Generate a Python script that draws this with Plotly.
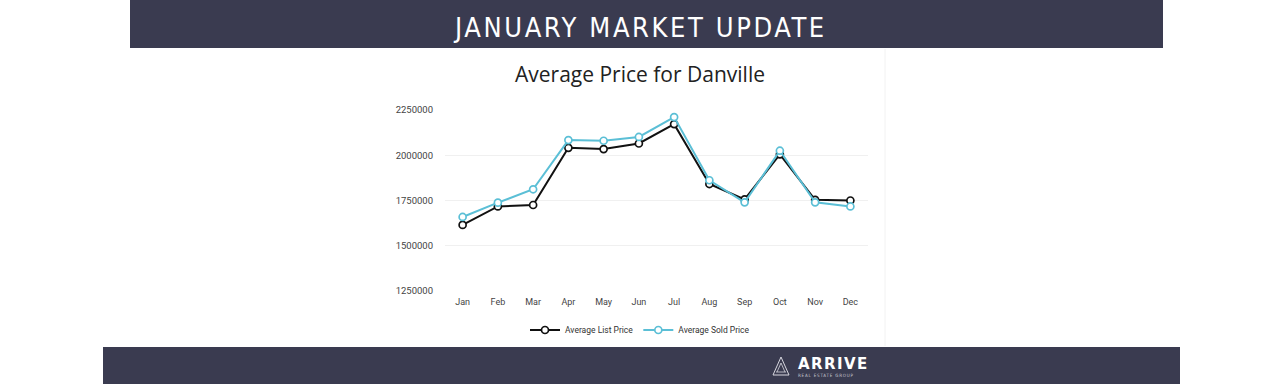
import plotly.graph_objects as go

months = ["Jan", "Feb", "Mar", "Apr", "May", "Jun", "Jul", "Aug", "Sep", "Oct", "Nov", "Dec"]
avg_list_price = [1615000, 1717000, 1725000, 2041000, 2034000, 2065000, 2172000, 1841000, 1756000, 2005000, 1754000, 1750000]
avg_sold_price = [1659000, 1738000, 1812000, 2084000, 2080000, 2101000, 2211000, 1862000, 1740000, 2025000, 1740000, 1717000]
y_ticks = [1250000, 1500000, 1750000, 2000000, 2250000]

BAR = "#3a3b50"
CYAN = "#5bbfd6"
BLACK = "#111111"
W, H = 1280, 384


def px(x):
    return x / W


def py(y):
    return 1 - y / H


fig = go.Figure()
fig.add_trace(go.Scatter(
    x=months, y=avg_list_price, name="Average List Price", mode="lines+markers",
    line=dict(color=BLACK, width=2),
    marker=dict(symbol="circle", size=7, color="white", line=dict(color=BLACK, width=1.7)),
    cliponaxis=False,
))
fig.add_trace(go.Scatter(
    x=months, y=avg_sold_price, name="Average Sold Price", mode="lines+markers",
    line=dict(color=CYAN, width=2),
    marker=dict(symbol="circle", size=7, color="white", line=dict(color=CYAN, width=1.7)),
    cliponaxis=False,
))

shapes = [
    dict(type="rect", xref="paper", yref="paper", x0=px(130), x1=px(1163), y0=py(48), y1=1.0,
         fillcolor=BAR, line=dict(width=0), layer="below"),
    dict(type="rect", xref="paper", yref="paper", x0=px(103), x1=px(1180), y0=0, y1=py(347),
         fillcolor=BAR, line=dict(width=0), layer="below"),
    dict(type="line", xref="paper", yref="paper", x0=px(885), x1=px(885), y0=py(346), y1=py(49),
         line=dict(color="#f2f2f2", width=1), layer="below"),
    # logo icon
    dict(type="path", xref="paper", yref="paper",
         path="M {a},{b} L {c},{d} L {e},{b} Z".format(a=px(773), b=py(375), c=px(781), d=py(357), e=px(789)),
         line=dict(color="#d8d8e0", width=1), fillcolor="rgba(0,0,0,0)"),
    dict(type="path", xref="paper", yref="paper",
         path="M {a},{b} L {c},{d} L {e},{b}".format(a=px(777), b=py(372), c=px(781), d=py(363), e=px(785)),
         line=dict(color="#d8d8e0", width=0.8), fillcolor="rgba(0,0,0,0)"),
    dict(type="line", xref="paper", yref="paper", x0=px(776), x1=px(786), y0=py(372), y1=py(372),
         line=dict(color="#d8d8e0", width=0.8)),
]

annotations = [
    dict(text='<span style="letter-spacing:2.6px">JANUARY MARKET UPDATE</span>', xref="paper", yref="paper",
         x=0.5, y=py(28), showarrow=False, xanchor="center", yanchor="middle",
         font=dict(family="DejaVu Sans Condensed", size=27, color="white")),
    dict(text="Average Price for Danville", xref="paper", yref="paper", x=0.5, y=py(74),
         showarrow=False, xanchor="center", yanchor="middle",
         font=dict(family="Open Sans", size=21, color="#222222")),
    dict(text='<span style="letter-spacing:1.4px"><b>ARRIVE</b></span>', xref="paper", yref="paper",
         x=px(796), y=py(364), showarrow=False, xanchor="left", yanchor="middle",
         font=dict(family="DejaVu Sans", size=15, color="white")),
    dict(text='<span style="letter-spacing:0.8px">REAL ESTATE GROUP</span>', xref="paper", yref="paper",
         x=px(796), y=py(375), showarrow=False, xanchor="left", yanchor="middle",
         font=dict(family="DejaVu Sans Condensed", size=4.5, color="#c8c8d0")),
]

fig.update_layout(
    width=W, height=H,
    margin=dict(l=0, r=0, t=0, b=0, autoexpand=False),
    paper_bgcolor="white", plot_bgcolor="white",
    showlegend=True,
    legend=dict(orientation="h", x=0.5, xanchor="center", y=py(330), yref="paper", yanchor="middle",
                font=dict(family="Roboto", size=8.5, color="#333333"), itemwidth=30,
                bgcolor="rgba(0,0,0,0)"),
    shapes=shapes,
    annotations=annotations,
    xaxis=dict(type="category", range=[-0.5, 11.5], domain=[px(445), px(868)], automargin=False,
               showgrid=False, zeroline=False, showline=False,
               ticks="", tickfont=dict(family="Roboto", size=9, color="#444444"), ticklabelstandoff=4),
    yaxis=dict(range=[1250000, 2250000], domain=[py(291), py(110)], automargin=False,
               tickvals=y_ticks, ticktext=[str(v) for v in y_ticks],
               showgrid=True, gridcolor="#f0f0f0", gridwidth=1, zeroline=False, showline=False,
               ticks="", tickfont=dict(family="Roboto", size=9.5, color="#444444"), ticklabelstandoff=11),
)

fig.write_html("out.html", config={"displayModeBar": False},
               post_script="document.body.style.margin='0';")
